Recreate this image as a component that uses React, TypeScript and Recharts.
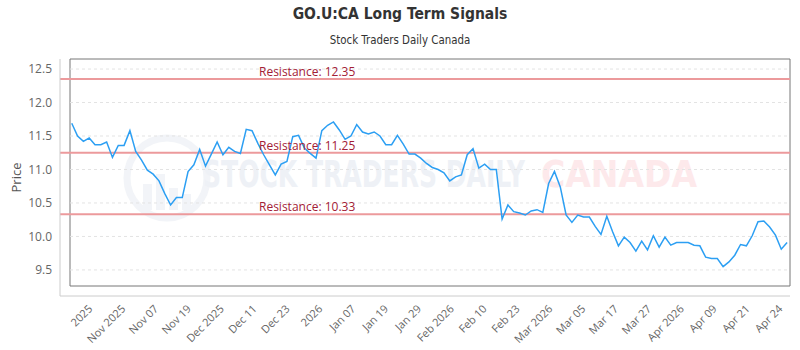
import React from 'react';
import {
  LineChart,
  Line,
  XAxis,
  YAxis,
  ReferenceLine,
  ReferenceArea,
  Label,
} from 'recharts';

// daily closes, oldest first
const prices = [
  11.69, 11.5, 11.42, 11.47, 11.37, 11.37, 11.41, 11.18, 11.36, 11.36,
  11.58, 11.27, 11.14, 10.99, 10.93, 10.83, 10.64, 10.47, 10.58, 10.58,
  10.97, 11.07, 11.3, 11.05, 11.23, 11.41, 11.22, 11.33, 11.27, 11.24,
  11.6, 11.58, 11.39, 11.22, 11.07, 10.92, 11.08, 11.12, 11.49, 11.51,
  11.32, 11.24, 11.17, 11.58, 11.66, 11.71, 11.59, 11.45, 11.5, 11.67,
  11.56, 11.53, 11.56, 11.5, 11.37, 11.37, 11.51, 11.38, 11.23, 11.23,
  11.17, 11.09, 11.03, 11.0, 10.95, 10.83, 10.89, 10.92, 11.22, 11.31,
  11.02, 11.08, 11.0, 11.0, 10.26, 10.47, 10.37, 10.35, 10.32, 10.38,
  10.4, 10.36, 10.79, 10.97, 10.74, 10.32, 10.21, 10.32, 10.29, 10.29,
  10.15, 10.03, 10.3, 10.07, 9.86, 9.99, 9.91, 9.78, 9.93, 9.8,
  10.01, 9.84, 9.99, 9.87, 9.91, 9.91, 9.91, 9.87, 9.86, 9.69,
  9.67, 9.67, 9.55, 9.62, 9.72, 9.88, 9.86, 10.01, 10.22, 10.23,
  10.14, 10.02, 9.81, 9.91,
];

const tickLabels = [
  '2025', 'Nov 2025', 'Nov 07', 'Nov 19', 'Dec 2025', 'Dec 11', 'Dec 23',
  '2026', 'Jan 07', 'Jan 19', 'Jan 29', 'Feb 2026', 'Feb 10', 'Feb 23',
  'Mar 2026', 'Mar 05', 'Mar 17', 'Mar 27', 'Apr 2026', 'Apr 09', 'Apr 21',
  'Apr 24',
];

const resistanceLevels = [12.35, 11.25, 10.33];
const priceTicks = [9.5, 10, 10.5, 11, 11.5, 12, 12.5];

const data = prices.map((price, i) => ({ i, price }));

const X_MIN = -0.3;
const X_MAX = prices.length - 0.5;
const Y_MIN = 9.26;
const Y_MAX = 12.65;

// date labels sit at a fixed spacing along the session axis
const FIRST_TICK = 2.75;
const TICK_STEP = 5.65;
const xTicks = tickLabels.map((_, k) => FIRST_TICK + k * TICK_STEP);
const xTickLabel = (v: number) =>
  tickLabels[Math.round((v - FIRST_TICK) / TICK_STEP)] ?? '';

const axisFont = "'Open Sans', 'Noto Sans', sans-serif";
const titleFont = "'Liberation Sans Narrow', 'DejaVu Sans Condensed', 'Roboto', sans-serif";

// faint brand mark behind the plot
function Watermark() {
  return (
    <svg width={800} height={350} style={{ position: 'absolute', left: 0, top: 0 }}>
      <g opacity={0.4}>
        <circle cx={167} cy={178} r={40} fill="none" stroke="#dfe5ee" strokeWidth={7} />
        <rect x={143} y={184} width={9} height={26} fill="#dfe5ee" />
        <rect x={156} y={174} width={9} height={36} fill="#dfe5ee" />
        <rect x={169} y={188} width={9} height={22} fill="#dfe5ee" />
        <rect x={182} y={194} width={9} height={16} fill="#dfe5ee" />
      </g>
      <g transform="translate(0 187) scale(1 1.4)" fontFamily={titleFont} fontWeight={600} fontSize={26}>
        <text x={203} y={0} fill="#eef1f6" textLength={322} lengthAdjust="spacingAndGlyphs">
          STOCK TRADERS DAILY
        </text>
        <text x={541} y={0} fill="#fde9eb" textLength={156} lengthAdjust="spacingAndGlyphs">
          CANADA
        </text>
      </g>
    </svg>
  );
}

export default function App() {
  return (
    <div
      style={{
        position: 'absolute',
        left: 0,
        top: 0,
        width: 800,
        height: 350,
        background: '#fff',
        overflow: 'hidden',
      }}
    >
      <Watermark />
      <div
        style={{
          position: 'absolute',
          top: 5,
          width: 800,
          textAlign: 'center',
          fontFamily: titleFont,
          fontWeight: 700,
          fontSize: 15.5,
          color: '#333',
        }}
      >
        GO.U:CA Long Term Signals
      </div>
      <div
        style={{
          position: 'absolute',
          top: 33,
          width: 800,
          textAlign: 'center',
          fontFamily: titleFont,
          fontSize: 11.4,
          color: '#333',
        }}
      >
        Stock Traders Daily Canada
      </div>
      <LineChart
        width={800}
        height={350}
        data={data}
        margin={{ top: 59, right: 10, bottom: 0, left: 0 }}
        style={{ position: 'absolute', left: 0, top: 0 }}
      >
        <XAxis
          dataKey="i"
          type="number"
          domain={[X_MIN, X_MAX]}
          ticks={xTicks}
          interval={0}
          tickFormatter={xTickLabel}
          height={54}
          padding={{ left: 10, right: 0 }}
          stroke="#ccc"
          tickLine={false}
          tickSize={0}
          tickMargin={8}
          tick={{ angle: -45, textAnchor: 'end', fontSize: 11, fill: '#666', fontFamily: axisFont }}
        />
        <YAxis
          type="number"
          domain={[Y_MIN, Y_MAX]}
          ticks={priceTicks}
          interval={0}
          width={60}
          padding={{ top: 0, bottom: 10 }}
          stroke="#ccc"
          tickLine={false}
          tickSize={0}
          tickMargin={8}
          tickFormatter={(v: number) => v.toFixed(1)}
          tick={{ fontSize: 12, fill: '#666', fontFamily: axisFont }}
        >
          <Label
            value="Price"
            angle={-90}
            position="insideLeft"
            offset={16}
            style={{ fontSize: 13, fill: '#555', fontFamily: axisFont, textAnchor: 'middle' }}
          />
        </YAxis>

        {priceTicks.map((v) => (
          <ReferenceLine
            key={`grid-${v}`}
            segment={[
              { x: X_MIN, y: v },
              { x: X_MAX, y: v },
            ]}
            stroke="#e3e3e3"
            strokeDasharray="3 3"
          />
        ))}

        {resistanceLevels.map((v) => (
          <ReferenceLine
            key={`res-${v}`}
            y={v}
            stroke="#ec9a9c"
            strokeWidth={2}
            ifOverflow="visible"
            label={{
              value: `Resistance: ${v.toFixed(2)}`,
              position: 'insideBottomLeft',
              dx: 196,
              offset: 3,
              fill: '#a32035',
              fontSize: 12,
              fontFamily: axisFont,
            }}
          />
        ))}

        <ReferenceArea
          x1={X_MIN}
          x2={X_MAX}
          y1={Y_MIN}
          y2={Y_MAX}
          fill="none"
          stroke="#777"
          strokeWidth={1}
          ifOverflow="visible"
        />

        <Line
          type="linear"
          dataKey="price"
          stroke="#2c9ff3"
          strokeWidth={1.5}
          dot={false}
          isAnimationActive={false}
        />
      </LineChart>
    </div>
  );
}
